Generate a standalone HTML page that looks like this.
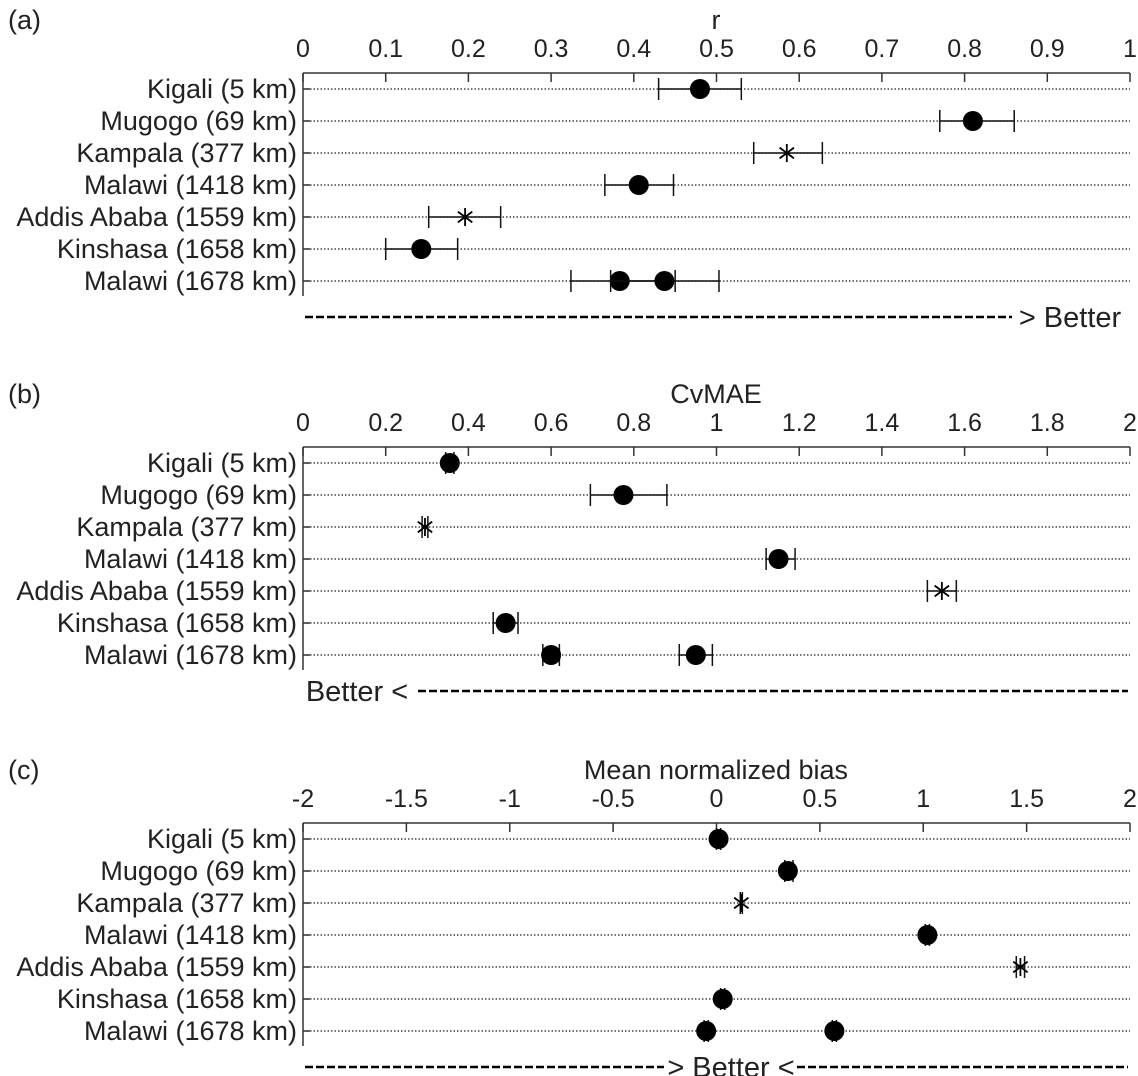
<!DOCTYPE html>
<html><head><meta charset="utf-8"><style>
html,body{margin:0;padding:0;background:#fff;width:1138px;height:1076px;overflow:hidden}
svg text{font-family:"Liberation Sans",sans-serif;fill:#222}
</style></head><body>
<svg id="fig" width="1138" height="1076" xmlns="http://www.w3.org/2000/svg"></svg>
<script>
const categories=["Kigali (5 km)","Mugogo (69 km)","Kampala (377 km)","Malawi (1418 km)","Addis Ababa (1559 km)","Kinshasa (1658 km)","Malawi (1678 km)"];
// marker type per row: c = circle, s = star
const markerTypes=["c","c","s","c","s","c","c"];
// panel a: r
const rTicks=["0","0.1","0.2","0.3","0.4","0.5","0.6","0.7","0.8","0.9","1"];
const rVals=[[0.48],[0.81],[0.585],[0.406],[0.196],[0.143],[0.383,0.437]];
const rLo=[[0.43],[0.77],[0.545],[0.365],[0.152],[0.10],[0.324,0.372]];
const rHi=[[0.53],[0.86],[0.628],[0.448],[0.239],[0.187],[0.45,0.503]];
// panel b: CvMAE
const cTicks=["0","0.2","0.4","0.6","0.8","1","1.2","1.4","1.6","1.8","2"];
const cVals=[[0.355],[0.775],[0.295],[1.15],[1.545],[0.49],[0.60,0.95]];
const cLo=[[0.345],[0.695],[0.288],[1.12],[1.51],[0.46],[0.58,0.91]];
const cHi=[[0.365],[0.88],[0.302],[1.19],[1.58],[0.52],[0.62,0.99]];
// panel c: mean normalized bias
const bTicks=["-2","-1.5","-1","-0.5","0","0.5","1","1.5","2"];
const bVals=[[0.01],[0.345],[0.12],[1.02],[1.47],[0.03],[-0.05,0.57]];
const bLo=[[0.0],[0.33],[0.115],[1.01],[1.45],[0.02],[-0.06,0.56]];
const bHi=[[0.02],[0.37],[0.125],[1.03],[1.49],[0.04],[-0.04,0.58]];

const NS="http://www.w3.org/2000/svg";
const svg=document.getElementById('fig');
function mk(tag,attrs,parent,txt){const e=document.createElementNS(NS,tag);for(const k in attrs)e.setAttribute(k,attrs[k]);if(txt!==undefined)e.textContent=txt;(parent||svg).appendChild(e);return e;}
const X0=303,X1=1130;

function panel(id,yOff,letter,title,ticks,tmin,tmax,vals,lo,hi,betterText,betterAnchor){
  const g=mk('g',{});
  
  
  const sx=v=>X0+(v-tmin)/(tmax-tmin)*(X1-X0);
  const axisY=73+yOff, rowY=i=>89+yOff+i*32;
  const pl=mk('text',{x:8,y:29+yOff,'font-size':27},g,letter);
  
  
  const tt=mk('text',{x:716,y:29+yOff,'font-size':27,'text-anchor':'middle'},g,title);
  
  
  categories.forEach((c,i)=>{
    const gl=mk('line',{x1:X0,x2:X1,y1:rowY(i),y2:rowY(i),stroke:'#222','stroke-width':1.2,'stroke-dasharray':'1.5 2'},g);
    
    
    mk('line',{x1:X0,x2:X0+7,y1:rowY(i),y2:rowY(i),stroke:'#333','stroke-width':1.5},g);
    const lb=mk('text',{x:297,y:rowY(i)+9,'font-size':27,'text-anchor':'end',textLength:0},g,c);
    lb.removeAttribute('textLength');
    
    
  });
  const ax=mk('line',{x1:X0,x2:X1,y1:axisY,y2:axisY,stroke:'#333','stroke-width':1.5},g);
  
  
  const ay=mk('line',{x1:X0,x2:X0,y1:axisY,y2:axisY+223,stroke:'#333','stroke-width':1.5},g);
  
  
  ticks.forEach(t=>{
    const x=sx(parseFloat(t));
    mk('line',{x1:x,x2:x,y1:axisY,y2:axisY+9,stroke:'#333','stroke-width':1.5},g);
    const tl=mk('text',{x:x,y:axisY-16,'font-size':25,'text-anchor':'middle'},g,t);
    
    
  });
  vals.forEach((arr,i)=>{
    const y=rowY(i);
    arr.forEach((v,j)=>{
      const xl=sx(lo[i][j]),xh=sx(hi[i][j]),x=sx(v);
      const eb=mk('g',{},g);
      
      
      mk('line',{x1:xl,x2:xh,y1:y,y2:y,stroke:'#111','stroke-width':1.5},eb);
      mk('line',{x1:xl,x2:xl,y1:y-11,y2:y+11,stroke:'#111','stroke-width':1.5},eb);
      mk('line',{x1:xh,x2:xh,y1:y-11,y2:y+11,stroke:'#111','stroke-width':1.5},eb);
      if(markerTypes[i]==='c'){
        const c=mk('circle',{cx:x,cy:y,r:10,fill:'#000'},g);
        
        
      }else{
        const s=mk('g',{stroke:'#000','stroke-width':1.8},g);
        
        
        const r=9;
        mk('line',{x1:x,x2:x,y1:y-r,y2:y+r},s);
        mk('line',{x1:x-r*0.8,x2:x+r*0.8,y1:y-r*0.6,y2:y+r*0.6},s);
        mk('line',{x1:x-r*0.8,x2:x+r*0.8,y1:y+r*0.6,y2:y-r*0.6},s);
      }
    });
  });
  const by=316+yOff;
  const bt=mk('text',{x:betterAnchor,y:by+11,'font-size':29,'text-anchor':'middle',fill:'#000'},g,betterText);
  
  
  return {sx,by};
}
function dash(x1,x2,y){const l=mk('line',{x1:x1,x2:x2,y1:y,y2:y,stroke:'#000','stroke-width':2.5,'stroke-dasharray':'8 3'});}
const pa=panel('a',0,'(a)','r',rTicks,0,1,rVals,rLo,rHi,'> Better',1070);
dash(305,1012,pa.by+1);
const pb=panel('b',374,'(b)','CvMAE',cTicks,0,2,cVals,cLo,cHi,'Better <',357);
dash(418,1128,pb.by+1);
const pc=panel('c',750,'(c)','Mean normalized bias',bTicks,-2,2,bVals,bLo,bHi,'> Better <',731);
dash(305,664,pc.by+1);dash(797,1128,pc.by+1);
</script>
</body></html>
